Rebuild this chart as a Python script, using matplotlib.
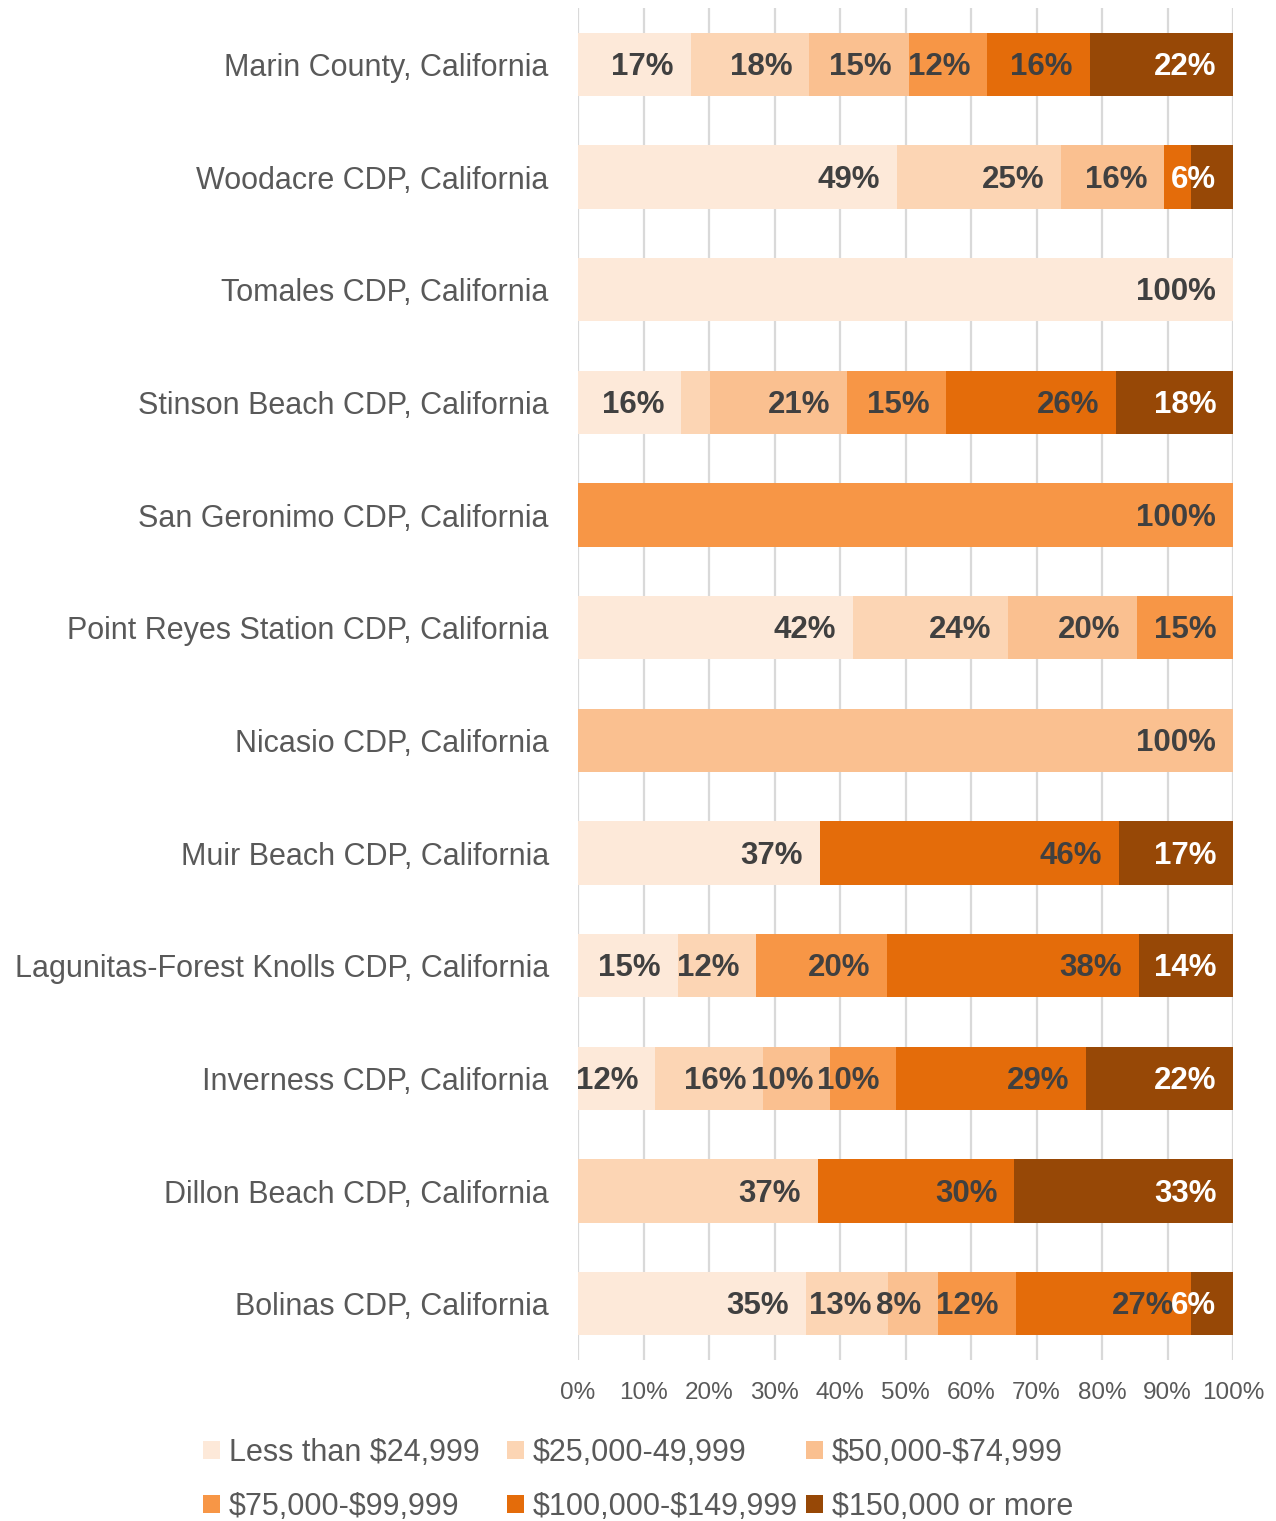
import matplotlib
matplotlib.use("Agg")
import matplotlib.pyplot as plt
from matplotlib.patches import Patch
import numpy as np

plt.rcParams["font.family"] = ["Liberation Sans", "DejaVu Sans"]

PLACES = [
    "Marin County, California",
    "Woodacre CDP, California",
    "Tomales CDP, California",
    "Stinson Beach CDP, California",
    "San Geronimo CDP, California",
    "Point Reyes Station CDP, California",
    "Nicasio CDP, California",
    "Muir Beach CDP, California",
    "Lagunitas-Forest Knolls CDP, California",
    "Inverness CDP, California",
    "Dillon Beach CDP, California",
    "Bolinas CDP, California",
]

SERIES = [
    "Less than $24,999",
    "$25,000-49,999",
    "$50,000-$74,999",
    "$75,000-$99,999",
    "$100,000-$149,999",
    "$150,000 or more",
]

# share of households (%) per place, one list per income band
less_25k  = [17.2, 48.7, 100, 15.8, 0,   42.0, 0,   36.9, 15.2, 11.8, 0,    34.8]
k25_50    = [18.1, 25.1, 0,   4.3,  0,   23.6, 0,   0,    12.0, 16.4, 36.6, 12.6]
k50_75    = [15.2, 15.7, 0,   20.9, 0,   19.7, 100, 0,    0,    10.3, 0,    7.6]
k75_100   = [12.0, 0,    0,   15.2, 100, 14.7, 0,   0,    20.0, 10.1, 0,    11.8]
k100_150  = [15.6, 4.1,  0,   26.0, 0,   0,    0,   45.7, 38.4, 29.0, 30.0, 26.8]
k150_plus = [21.9, 6.4,  0,   17.8, 0,   0,    0,   17.4, 14.4, 22.4, 33.4, 6.4]

COLORS = ["#FDE9D9", "#FCD5B4", "#FAC090", "#F79646", "#E46C0A", "#974806"]
LABEL_COLORS = ["#404040"] * 5 + ["white"]
TEXT_GRAY = "#595959"

data = np.array([less_25k, k25_50, k50_75, k75_100, k100_150, k150_plus], dtype=float)
data = data / data.sum(axis=0) * 100

fig = plt.figure(figsize=(12.76, 15.21), dpi=100)
ax = fig.add_axes([578 / 1276, 1 - 1360 / 1521, (1233 - 578) / 1276, (1360 - 8) / 1521])

y = np.arange(len(PLACES))
left = np.zeros(len(PLACES))
for vals, name, color, lcol in zip(data, SERIES, COLORS, LABEL_COLORS):
    ax.barh(y, vals, left=left, height=0.56, color=color, zorder=2)
    for yi, (l, v) in enumerate(zip(left, vals)):
        if v >= 5:  # tiny segments are left unlabelled
            ax.annotate(f"{v:.0f}%", xy=(l + v, yi), xytext=(-12, -2),
                        textcoords="offset points", ha="right", va="center",
                        fontsize=22.5, fontweight="bold", color=lcol, zorder=3)
    left += vals

ax.set_xlim(0, 100)
ax.set_ylim(len(PLACES) - 0.5, -0.5)
ax.set_xticks(np.arange(0, 101, 10))
ax.set_xticklabels([f"{t}%" for t in range(0, 101, 10)])
ax.set_yticks(y)
ax.set_yticklabels(PLACES)
ax.tick_params(axis="x", length=0, pad=16, labelsize=17.5, labelcolor=TEXT_GRAY)
ax.tick_params(axis="y", length=0, pad=21, labelsize=22, labelcolor=TEXT_GRAY)
ax.grid(axis="x", color="#D9D9D9", linewidth=1.6, zorder=0)
ax.set_axisbelow(True)
for s in ax.spines.values():
    s.set_visible(False)

# legend: Excel-style grid, three equal columns, two rows
col_x = [203 / 1276, 507 / 1276, 806 / 1276]
for c in range(3):
    idx = [c, c + 3]
    handles = [Patch(facecolor=COLORS[i], edgecolor="none") for i in idx]
    labels = [SERIES[i].replace("$", r"\$") for i in idx]
    fig.legend(handles, labels, loc="upper left",
               bbox_to_anchor=(col_x[c], 1 - 1438 / 1521), frameon=False,
               fontsize=22, labelcolor=TEXT_GRAY, handlelength=0.55,
               handleheight=0.55, handletextpad=0.3, labelspacing=0.78,
               borderpad=0, borderaxespad=0)

fig.savefig("out.png", dpi=100, facecolor="white")
